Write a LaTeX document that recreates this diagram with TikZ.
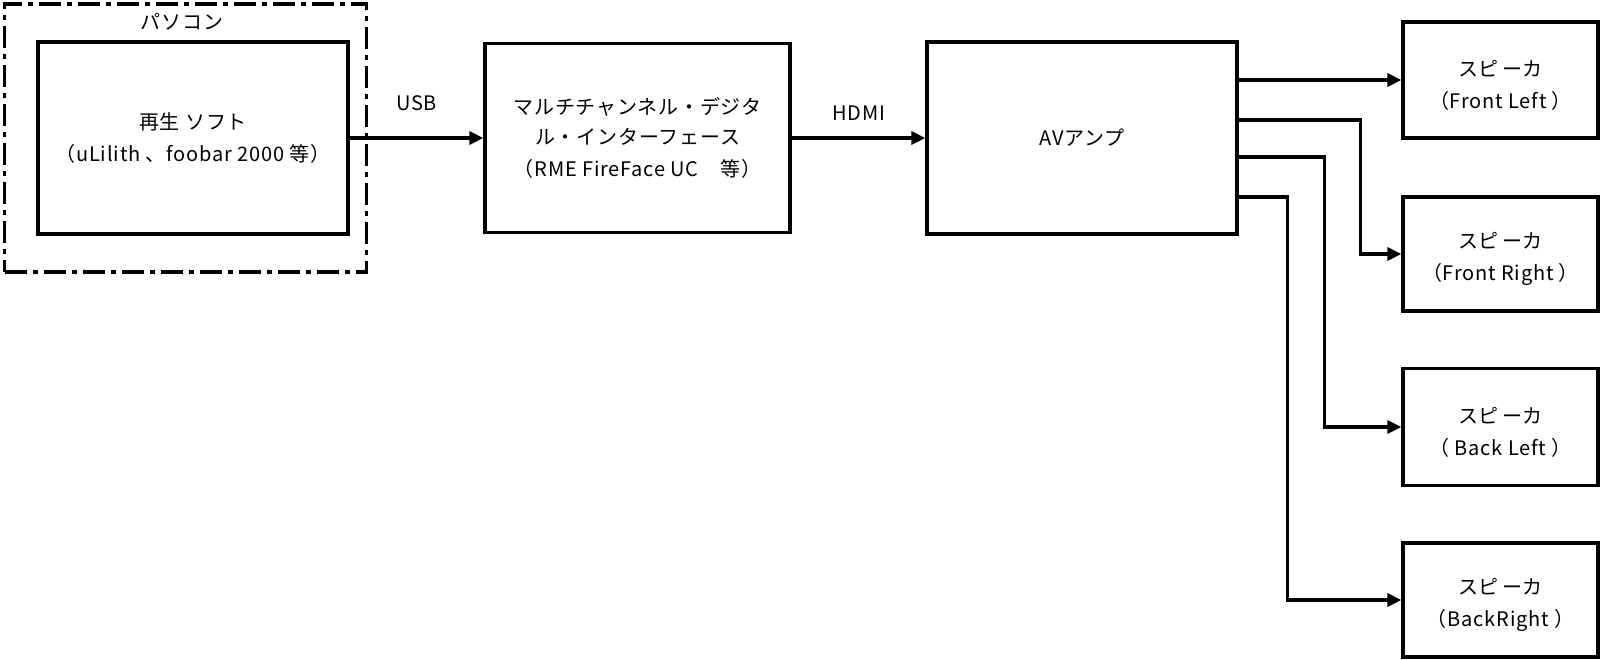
\documentclass[tikz,border=0pt]{standalone}
\usepackage{fontspec}
\setmainfont[LetterSpace=4]{Noto Sans CJK JP}
\usetikzlibrary{arrows.meta}
\begin{document}
\begin{tikzpicture}[x=1pt,y=-1pt,
  box/.style={draw,line width=3.2pt,rectangle,inner sep=0pt,align=center,font=\fontsize{20}{32}\selectfont},
  conn/.style={line width=3.2pt,-{Triangle[length=14pt,width=13pt]}},
  lbl/.style={font=\fontsize{20}{24}\selectfont,inner sep=0pt}]
\useasboundingbox (0,0) rectangle (1600,659);
% PC frame
\node (pc) [draw,line width=3.5pt,dash pattern=on 22pt off 6pt on 5pt off 6pt,minimum width=362pt,minimum height=268pt,inner sep=0pt] at (185.5,138) {};
\node (pclbl) [lbl] at (182,22) {パソコン};
\node (soft) [box,minimum width=310pt,minimum height=192pt] at (193,138) {再生 ソフト\\（uLilith 、foobar 2000 等）};
\node (dac) [box,minimum width=305pt,minimum height=189pt] at (637.5,138) {マルチチャンネル・デジタ\\[-2pt]ル・インターフェース\\（RME FireFace UC　等）};
\node (av) [box,minimum width=310pt,minimum height=192pt] at (1082,138) {AVアンプ};
\node (s1) [box,minimum width=195pt,minimum height=116pt] at (1500.5,80) {\rule{0pt}{26pt}スピ\,ーカ\\（Front Left ）};
\node (s2) [box,minimum width=195pt,minimum height=114pt] at (1500.5,254) {\rule{0pt}{26pt}スピ\,ーカ\\（Front Right ）};
\node (s3) [box,minimum width=195pt,minimum height=117pt] at (1500.5,427) {\rule{0pt}{26pt}スピ\,ーカ\\（ Back Left ）};
\node (s4) [box,minimum width=195pt,minimum height=114pt] at (1500.5,600) {\rule{0pt}{26pt}スピ\,ーカ\\（BackRight ）};
% connectors
\draw[conn] (soft.east) -- (dac.west) node[lbl,midway,above=26pt] (usb) {USB};
\draw[conn] (dac.east) -- (av.west) node[lbl,midway,above=16pt] (hdmi) {HDMI};
\coordinate (o2) at ([yshift=18pt]av.east);
\coordinate (o3) at ([yshift=-19pt]av.east);
\coordinate (o4) at ([yshift=-59pt]av.east);
\draw[conn] (av.east |- s1.west) -- (s1.west);
\draw[conn] (o2) -| ([xshift=-41pt]s2.west) -- (s2.west);
\draw[conn] (o3) -| ([xshift=-77pt]s3.west) -- (s3.west);
\draw[conn] (o4) -| ([xshift=-114pt]s4.west) -- (s4.west);
\end{tikzpicture}
\end{document}
